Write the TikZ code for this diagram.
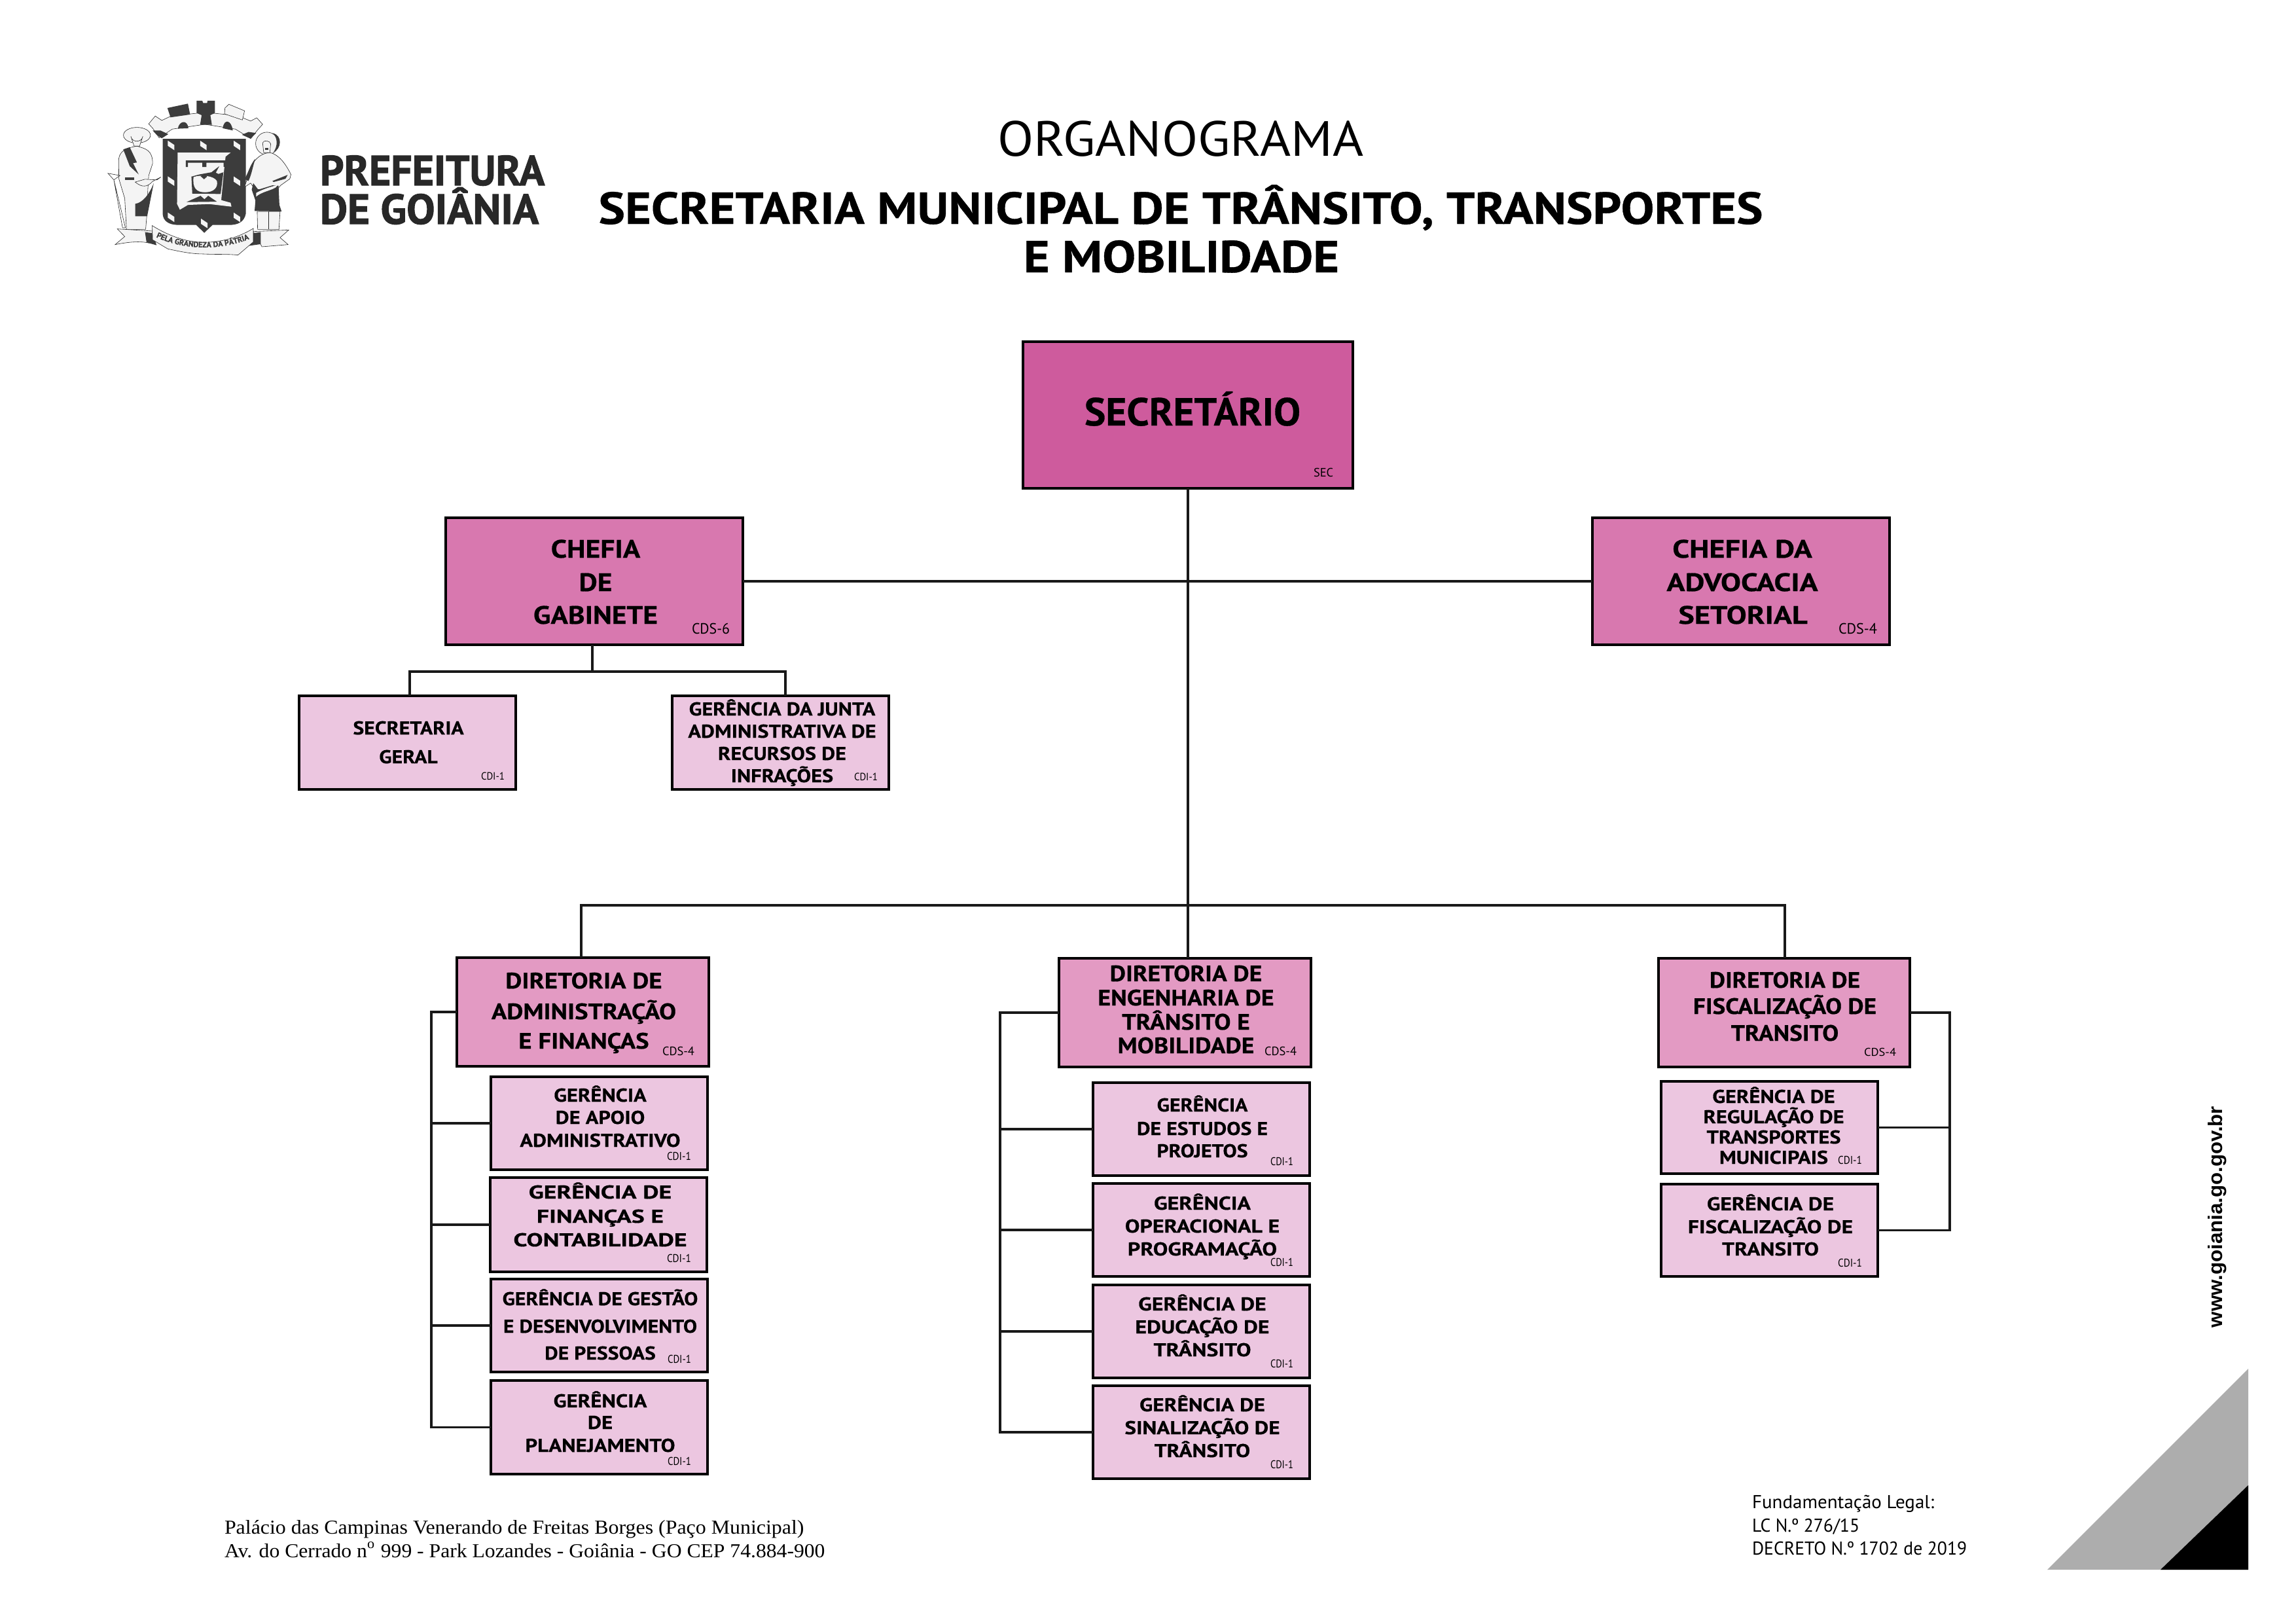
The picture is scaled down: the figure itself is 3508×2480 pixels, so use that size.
\documentclass[tikz,border=0pt]{standalone}
\usepackage{fontspec}
\usepackage{graphicx}
\setmainfont[BoldFeatures={FakeBold=0.5}]{PT Sans}
\newfontfamily\timesf{Liberation Serif}
\newfontfamily\arialf{Liberation Sans}
\newfontfamily\fatf[BoldFeatures={FakeBold=1.6}]{PT Sans}
\usetikzlibrary{decorations.text}
\definecolor{csec}{RGB}{206,91,157}
\definecolor{cchef}{RGB}{216,120,175}
\definecolor{cdir}{RGB}{227,154,195}
\definecolor{cger}{RGB}{236,198,224}
\definecolor{ldark}{RGB}{60,60,60}
\definecolor{llight}{RGB}{244,244,244}
\definecolor{lline}{RGB}{40,40,40}
\tikzset{
  orgbox/.style={draw=black,line width=0.04cm,rectangle,inner sep=0,outer sep=0},
  secbox/.style={orgbox,fill=csec},
  chefbox/.style={orgbox,fill=cchef},
  dirbox/.style={orgbox,fill=cdir},
  gerbox/.style={orgbox,fill=cger},
  conn/.style={draw=black!90,line width=0.036cm},
  lfill/.style={fill=llight,draw=lline,line width=0.006cm},
  dfill/.style={fill=ldark,draw=none},
  wfill/.style={fill=llight,draw=none}
}
\newcounter{tlc}
\newcommand\fpx[1]{\fontsize{#1}{#1}\selectfont}
\newcommand\pbox[6]{%
  \pgfmathsetmacro\cxv{(#3+#5)/2}\pgfmathsetmacro\cyv{(#4+#6)/2}%
  \node[#1,minimum width={(#5-#3-2)*0.01cm},minimum height={(#6-#4-2)*0.01cm}] (#2) at (\cxv,\cyv) {};}
\newcommand\fitset[3]{\def\curfont{#1}\def\curW{#2}\def\curref{#3}}
\newcommand\tln[4][base]{%
  \stepcounter{tlc}%
  \node[anchor=#1,inner sep=0,outer sep=0] (t\arabic{tlc}) at (#2,#3) {%
    \sbox0{\curfont\curref}\pgfmathsetmacro\fxv{\curW*0.284528/\the\wd0}%
    \scalebox{\fxv}[1]{\curfont #4}};}
\newcommand\cod[5]{\fitset{\fpx{#1}}{#4}{#5}\tln[base west]{#2}{#3}{#5}}
\begin{document}
\begin{tikzpicture}[x=0.01cm,y=-0.01cm]
\useasboundingbox (0,0) rectangle (3508,2480);
\fill[white] (0,0) rectangle (3508,2480);

% ---------- coat of arms ----------
\begin{scope}[shift={(150,140)},x=0.003333cm,y=-0.003333cm]
  % wall crown
  \path[lfill] (232,148) -- (262,112) -- (292,132) -- (335,112) -- (490,95) -- (640,110) -- (700,135) -- (728,120) -- (755,150) -- (735,172) -- (700,215) -- (630,172) -- (490,150) -- (340,172) -- (280,212) -- (252,170) -- cycle;
  \path[dfill] (250,178) -- (285,178) -- (322,195) -- (292,214) -- (270,200) -- cycle;
  \path[dfill] (660,198) -- (690,185) -- (725,190) -- (700,216) -- cycle;
  \path[dfill] (318,75) -- (412,55) -- (422,105) -- (332,118) -- cycle;
  \path[dfill] (452,42) -- (478,42) -- (482,52) -- (500,52) -- (502,42) -- (536,42) -- (536,98) -- (515,108) -- (522,152) -- (468,152) -- (475,108) -- (452,98) -- cycle;
  \path[lfill] (582,75) -- (600,58) -- (672,88) -- (662,130) -- (580,102) -- cycle;
  \path[dfill] (366,170) .. controls (370,135) and (410,125) .. (414,168) -- cycle;
  \path[dfill] (572,168) .. controls (578,122) and (612,130) .. (618,178) -- cycle;
  % shield
  \path[dfill] (296,217) -- (678,217) -- (678,560) .. controls (670,600) and (640,612) .. (600,612) -- (525,612) -- (487,648) -- (450,612) -- (370,612) .. controls (325,612) and (298,595) .. (296,560) -- cycle;
  \foreach \dx/\dy in {335/247,483/247,637/247,335/411,637/411,335/577,637/577,487/605}
    \path[wfill] (\dx-15,\dy-22) -- (\dx+15,\dy-2) -- (\dx+15,\dy+22) -- (\dx-15,\dy+2) -- cycle;
  \path[wfill] (365,280) -- (608,280) -- (585,298) -- (578,360) -- (565,498) -- (608,510) -- (612,528) -- (510,516) -- (412,520) -- (375,542) -- (362,515) -- cycle;
  \path[dfill] (402,316) -- (586,316) -- (586,346) -- (576,346) -- (576,326) -- (497,326) -- (497,346) -- (478,346) -- (478,326) -- (412,326) -- (412,346) -- (402,346) -- cycle;
  \path[dfill] (520,370) -- (556,342) -- (540,372) -- (552,378) -- (575,370) -- (562,470) -- (480,468) -- (432,468) -- (428,390) -- (465,380) -- cycle;
  \path[wfill] (438,392) .. controls (470,380) and (530,385) .. (545,410) .. controls (552,440) and (530,462) .. (490,462) .. controls (450,462) and (432,440) .. (438,392) -- cycle;
  \path[dfill] (470,388) -- (488,378) -- (500,390) -- (486,402) -- cycle;
  \path[dfill] (405,507) -- (470,478) -- (488,494) -- (505,478) -- (545,505) -- cycle;
  % left figure
  \path[lfill] (94,310) .. controls (100,270) and (130,258) .. (178,250) .. controls (220,262) and (250,270) .. (250,330) -- (232,385) -- (228,450) -- (224,560) -- (218,632) -- (130,632) -- (122,490) -- (95,400) -- cycle;
  \path[lfill] (178,200) ellipse (62 and 36);
  \path[lfill] (150,205) .. controls (155,235) and (200,235) .. (205,205) -- (190,250) -- (165,250) -- cycle;
  \path[dfill] (115,265) -- (145,255) -- (178,325) -- (160,328) -- (186,380) -- (145,342) -- cycle;
  \path[dfill] (122,393) -- (165,393) -- (165,405) -- (122,405) -- cycle;
  \path[dfill] (170,515) .. controls (205,510) and (235,470) .. (255,420) -- (225,572) -- (170,572) -- cycle;
  \path[lfill] (170,415) .. controls (200,440) and (225,440) .. (250,412) -- (288,392) -- (270,405) -- (215,402) -- cycle;
  \draw[lline,line width=0.006cm] (45,375) -- (100,385) -- (72,405) -- (125,625) -- (112,625) -- (72,405) -- cycle;
  % right figure
  \path[lfill] (775,238) circle (52);
  \path[dfill] (800,190) .. controls (850,200) and (840,265) .. (805,278) .. controls (825,250) and (825,210) .. (800,190) -- cycle;
  \path[lfill] (755,235) .. controls (760,220) and (790,225) .. (792,240) -- (788,280) -- (760,280) -- cycle;
  \path[dfill] (765,258) -- (780,258) -- (780,268) -- (765,268) -- cycle;
  \path[lfill] (700,350) .. controls (720,300) and (760,280) .. (790,280) .. controls (830,290) and (860,330) .. (885,380) -- (880,400) -- (838,430) -- (825,445) -- (720,450) -- (700,420) -- (672,438) -- cycle;
  \path[dfill] (672,402) .. controls (690,370) and (700,330) .. (722,308) .. controls (710,340) and (705,380) .. (690,410) -- cycle;
  \path[lfill] (730,550) -- (835,550) -- (830,632) -- (732,632) -- cycle;
  \path[dfill] (712,420) -- (735,450) -- (800,430) -- (828,432) -- (832,520) -- (842,550) -- (718,548) -- (722,500) -- (705,450) -- cycle;
  \path[wfill] (725,465) .. controls (760,445) and (800,435) .. (825,428) -- (815,440) .. controls (790,455) and (750,460) .. (725,482) -- cycle;
  \path[dfill] (800,410) -- (870,382) -- (860,400) -- (805,415) -- cycle;
  \draw[lline,line width=0.006cm] (782,550) -- (782,632);
  % ribbon
  \path[lfill] (88,630) -- (250,640) -- (235,695) .. controls (190,685) and (140,690) .. (78,702) -- (122,665) -- cycle;
  \path[lfill] (712,642) -- (875,635) -- (835,670) -- (872,702) -- (752,712) -- cycle;
  \path[dfill] (215,645) -- (252,650) -- (268,705) -- (222,692) -- cycle;
  \path[dfill] (708,650) -- (746,645) -- (746,700) -- (690,708) -- cycle;
  \path[lfill] (248,615) .. controls (320,660) and (400,690) .. (480,692) .. controls (560,692) and (640,672) .. (712,628) -- (712,690) -- (642,750) .. controls (590,745) and (540,748) .. (480,745) .. controls (420,745) and (360,730) .. (320,722) -- (250,680) -- cycle;
  \path[decorate,decoration={text along path,text align=center,
     text={|\fpx{3.4}\bfseries\color{ldark}|PELA GRANDEZA DA PÁTRIA}}]
     (275,672) .. controls (400,728) and (560,728) .. (685,680);
\end{scope}

% ---------- logo lettering and titles ----------
\color{black}
\fitset{\fatf\fpx{18.3}\bfseries\color{lline}}{343}{PREFEITURA}
\tln[base west]{489}{283}{PREFEITURA}
\fitset{\fatf\fpx{18.3}\bfseries\color{lline}}{334}{DE GOIÂNIA}
\tln[base west]{489}{342}{DE GOIÂNIA}
\fitset{\fpx{21.5}}{558}{ORGANOGRAMA}
\tln{1804}{238}{ORGANOGRAMA}
\fitset{\fpx{19.5}\bfseries}{1778}{SECRETARIA MUNICIPAL DE TRÂNSITO, TRANSPORTES}
\tln{1804}{342}{SECRETARIA MUNICIPAL DE TRÂNSITO, TRANSPORTES}
\tln{1805}{416}{E MOBILIDADE}

% ---------- boxes ----------
\pbox{secbox}{sec}{1562}{521}{2068}{747}
\pbox{chefbox}{gab}{680}{790}{1136}{986}
\pbox{chefbox}{adv}{2432}{790}{2888}{986}
\pbox{gerbox}{sgeral}{456}{1062}{789}{1207}
\pbox{gerbox}{junta}{1026}{1062}{1359}{1207}
\pbox{dirbox}{dirA}{697}{1462}{1084}{1630}
\pbox{dirbox}{dirE}{1617}{1463}{2004}{1631}
\pbox{dirbox}{dirF}{2533}{1463}{2919}{1631}
\pbox{gerbox}{gA1}{749}{1644}{1082}{1788}
\pbox{gerbox}{gA2}{748}{1798}{1081}{1944}
\pbox{gerbox}{gA3}{749}{1953}{1082}{2097}
\pbox{gerbox}{gA4}{749}{2108}{1082}{2253}
\pbox{gerbox}{gE1}{1669}{1653}{2002}{1797}
\pbox{gerbox}{gE2}{1669}{1807}{2002}{1951}
\pbox{gerbox}{gE3}{1669}{1962}{2002}{2106}
\pbox{gerbox}{gE4}{1669}{2116}{2002}{2260}
\pbox{gerbox}{gF1}{2537}{1651}{2870}{1794}
\pbox{gerbox}{gF2}{2537}{1808}{2870}{1951}

% ---------- connectors ----------
\coordinate (hbus) at (1815,1383);
\coordinate (hbA) at (888,1383);
\coordinate (hbF) at (2727,1383);
\coordinate (gbus) at (905,1026);
\coordinate (gbL) at (626,1026);
\coordinate (gbR) at (1200,1026);
\coordinate (busA) at (659,1800);
\coordinate (busE) at (1528,1800);
\coordinate (busF) at (2979,1700);
\draw[conn] (sec.south) -- (hbus);
\draw[conn] (hbus |- dirE.north) -- (hbus);
\draw[conn] (gab.east) -- (adv.west);
\draw[conn] (hbA |- dirA.north) -- (hbA) -- (hbF) -- (hbF |- dirF.north);
\draw[conn] (gbus |- gab.south) -- (gbus);
\draw[conn] (gbL |- sgeral.north) -- (gbL) -- (gbR) -- (gbR |- junta.north);
\draw[conn] (dirA.west) -| (busA) |- (gA4.west);
\foreach \n in {gA1,gA2,gA3} \draw[conn] (\n.west -| busA) -- (\n.west);
\draw[conn] (dirE.west) -| (busE) |- (gE4.west);
\foreach \n in {gE1,gE2,gE3} \draw[conn] (\n.west -| busE) -- (\n.west);
\draw[conn] (dirF.east) -| (busF) |- (gF2.east);
\draw[conn] (gF1.east -| busF) -- (gF1.east);

% ---------- box texts ----------
\fitset{\fpx{17}\bfseries}{330}{SECRETÁRIO}
\tln{1822}{650}{SECRETÁRIO}
\cod{5.3}{2007}{728}{30}{SEC}

\fitset{\fpx{11}\bfseries}{190}{GABINETE}
\tln{910}{852}{CHEFIA}
\tln{910}{903}{DE}
\tln{910}{953}{GABINETE}
\cod{6.5}{1057}{968}{58}{CDS-6}

\fitset{\fpx{11}\bfseries}{231}{ADVOCACIA}
\tln{2662}{852}{CHEFIA DA}
\tln{2662}{903}{ADVOCACIA}
\tln{2663}{953}{SETORIAL}
\cod{6.5}{2809}{968}{59}{CDS-4}

\fitset{\fpx{8.1}\bfseries}{169}{SECRETARIA}
\tln{624}{1122}{SECRETARIA}
\tln{624}{1166}{GERAL}
\cod{4.6}{735}{1191}{36}{CDI-1}

\fitset{\fpx{8.1}\bfseries}{287}{ADMINISTRATIVA DE}
\tln{1195}{1093}{GERÊNCIA DA JUNTA}
\tln{1195}{1127}{ADMINISTRATIVA DE}
\tln{1195}{1161}{RECURSOS DE}
\tln{1195}{1195}{INFRAÇÕES}
\cod{4.6}{1305}{1192}{36}{CDI-1}

\fitset{\fpx{9.7}\bfseries}{282}{ADMINISTRAÇÃO}
\tln{892}{1510}{DIRETORIA DE}
\tln{892}{1557}{ADMINISTRAÇÃO}
\tln{892}{1602}{E FINANÇAS}
\cod{5.3}{1012}{1612}{49}{CDS-4}

\fitset{\fpx{8.1}\bfseries}{245}{ADMINISTRATIVO}
\tln{917}{1683}{GERÊNCIA}
\tln{917}{1717}{DE APOIO}
\tln{917}{1752}{ADMINISTRATIVO}
\cod{4.9}{1019}{1772}{37}{CDI-1}

\fitset{\fpx{8.1}\bfseries}{265}{CONTABILIDADE}
\tln{917}{1831}{GERÊNCIA DE}
\tln{917}{1868}{FINANÇAS E}
\tln{917}{1904}{CONTABILIDADE}
\cod{4.9}{1019}{1928}{37}{CDI-1}

\fitset{\fpx{8.1}\bfseries}{296}{E DESENVOLVIMENTO}
\tln{917}{1994}{GERÊNCIA DE GESTÃO}
\tln{917}{2036}{E DESENVOLVIMENTO}
\tln{917}{2077}{DE PESSOAS}
\cod{4.9}{1020}{2082}{36}{CDI-1}

\fitset{\fpx{8.1}\bfseries}{229}{PLANEJAMENTO}
\tln{917}{2150}{GERÊNCIA}
\tln{917}{2183}{DE}
\tln{917}{2218}{PLANEJAMENTO}
\cod{4.9}{1020}{2238}{36}{CDI-1}

\fitset{\fpx{9.7}\bfseries}{269}{ENGENHARIA DE}
\tln{1812}{1499}{DIRETORIA DE}
\tln{1812}{1536}{ENGENHARIA DE}
\tln{1812}{1573}{TRÂNSITO E}
\tln{1812}{1609}{MOBILIDADE}
\cod{5.3}{1932}{1612}{49}{CDS-4}

\fitset{\fpx{8.1}\bfseries}{200}{DE ESTUDOS E}
\tln{1837}{1698}{GERÊNCIA}
\tln{1837}{1734}{DE ESTUDOS E}
\tln{1837}{1768}{PROJETOS}
\cod{4.9}{1941}{1780}{35}{CDI-1}

\fitset{\fpx{8.1}\bfseries}{228}{PROGRAMAÇÃO}
\tln{1837}{1848}{GERÊNCIA}
\tln{1837}{1883}{OPERACIONAL E}
\tln{1837}{1918}{PROGRAMAÇÃO}
\cod{4.9}{1941}{1934}{35}{CDI-1}

\fitset{\fpx{8.1}\bfseries}{205}{EDUCAÇÃO DE}
\tln{1837}{2002}{GERÊNCIA DE}
\tln{1837}{2037}{EDUCAÇÃO DE}
\tln{1837}{2072}{TRÂNSITO}
\cod{4.9}{1941}{2089}{35}{CDI-1}

\fitset{\fpx{8.1}\bfseries}{237}{SINALIZAÇÃO DE}
\tln{1837}{2156}{GERÊNCIA DE}
\tln{1837}{2191}{SINALIZAÇÃO DE}
\tln{1837}{2226}{TRÂNSITO}
\cod{4.9}{1941}{2243}{35}{CDI-1}

\fitset{\fpx{9.7}\bfseries}{280}{FISCALIZAÇÃO DE}
\tln{2727}{1509}{DIRETORIA DE}
\tln{2727}{1549}{FISCALIZAÇÃO DE}
\tln{2727}{1590}{TRANSITO}
\cod{4.9}{2848}{1613}{49}{CDS-4}

\fitset{\fpx{8.1}\bfseries}{215}{REGULAÇÃO DE}
\tln{2710}{1685}{GERÊNCIA DE}
\tln{2710}{1716}{REGULAÇÃO DE}
\tln{2710}{1747}{TRANSPORTES}
\tln{2710}{1778}{MUNICIPAIS}
\cod{4.9}{2808}{1778}{37}{CDI-1}

\fitset{\fpx{8.1}\bfseries}{252}{FISCALIZAÇÃO DE}
\tln{2705}{1849}{GERÊNCIA DE}
\tln{2705}{1884}{FISCALIZAÇÃO DE}
\tln{2705}{1918}{TRANSITO}
\cod{4.9}{2808}{1935}{37}{CDI-1}

% ---------- footer ----------
\fitset{\timesf\fpx{8.6}}{885}{Palácio das Campinas Venerando de Freitas Borges (Paço Municipal)}
\tln[base west]{343}{2343}{Palácio das Campinas Venerando de Freitas Borges (Paço Municipal)}
\fitset{\timesf\fpx{8.6}}{917}{Av. do Cerrado n\textsuperscript{o} 999 - Park Lozandes - Goiânia - GO CEP 74.884-900}
\tln[base west]{343}{2379}{Av. do Cerrado n\textsuperscript{o} 999 - Park Lozandes - Goiânia - GO CEP 74.884-900}
\fitset{\fpx{8.1}}{278}{Fundamentação Legal:}
\tln[base west]{2677}{2304}{Fundamentação Legal:}
\fitset{\fpx{8.1}}{164}{LC N.º 276/15}
\tln[base west]{2677}{2340}{LC N.º 276/15}
\fitset{\fpx{8.1}}{328}{DECRETO N.º 1702 de 2019}
\tln[base west]{2677}{2375}{DECRETO N.º 1702 de 2019}
\node[rotate=90,anchor=base,inner sep=0] (www) at (3395,1859) {\sbox0{\arialf\bfseries\fpx{8.6}www.goiania.go.gov.br}\pgfmathsetmacro\fxv{338*0.284528/\the\wd0}\scalebox{\fxv}[1]{\arialf\bfseries\fpx{8.6}www.goiania.go.gov.br}};
\fill[black!32] (3128,2398) -- (3435,2091) -- (3435,2398) -- cycle;
\fill[black] (3301,2398) -- (3435,2269) -- (3435,2398) -- cycle;
\end{tikzpicture}
\end{document}
